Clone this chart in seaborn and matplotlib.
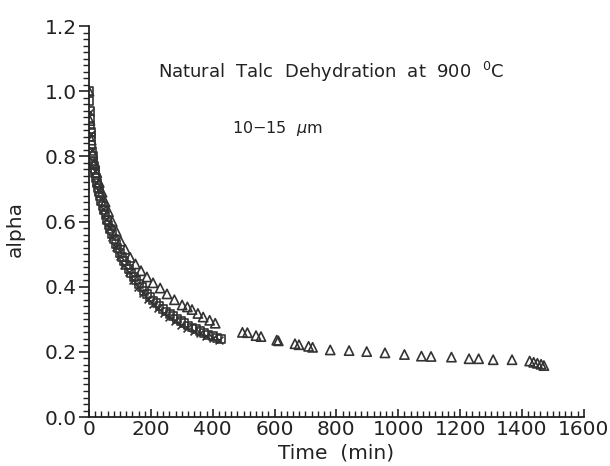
import matplotlib
matplotlib.use("Agg")
import matplotlib.pyplot as plt
from matplotlib.ticker import MultipleLocator
import seaborn as sns
import pandas as pd

# Run 1 (squares): dense record over the first ~430 min
t_sq = [0, 1, 2, 3, 4, 5, 6, 8, 10, 12, 14, 16, 18, 20, 23, 26, 29, 32, 36, 40,
        44, 48, 53, 58, 63, 68, 74, 80, 86, 92, 99, 106, 113, 120, 128, 136, 144,
        152, 161, 170, 179, 188, 198, 208, 218, 228, 239, 250, 261, 272, 284, 296,
        308, 320, 333, 346, 359, 372, 386, 400, 414, 428]
a_sq = [1.00, 0.97, 0.94, 0.915, 0.895, 0.875, 0.86, 0.835, 0.815, 0.80, 0.785,
        0.772, 0.76, 0.748, 0.733, 0.718, 0.704, 0.692, 0.677, 0.663, 0.649, 0.636,
        0.620, 0.605, 0.590, 0.576, 0.561, 0.546, 0.532, 0.518, 0.504, 0.491, 0.478,
        0.466, 0.454, 0.442, 0.431, 0.420, 0.409, 0.398, 0.388, 0.378, 0.368, 0.358,
        0.349, 0.341, 0.332, 0.324, 0.316, 0.309, 0.301, 0.294, 0.288, 0.281, 0.275,
        0.269, 0.263, 0.258, 0.253, 0.248, 0.244, 0.240]

# Run 2 (crosses)
t_x = [2, 5, 9, 13, 18, 24, 30, 37, 45, 54, 64, 75, 87, 100, 114, 128, 143, 158,
       174, 190, 207, 224, 242, 260, 279, 298, 318, 338, 358, 379, 400, 420]
a_x = [0.935, 0.87, 0.82, 0.787, 0.755, 0.722, 0.697, 0.668, 0.638, 0.608, 0.58,
       0.552, 0.522, 0.494, 0.467, 0.444, 0.421, 0.400, 0.381, 0.363, 0.348, 0.334,
       0.320, 0.307, 0.295, 0.284, 0.274, 0.265, 0.257, 0.250, 0.244, 0.238]

# Run 3 (triangles): long run out to ~1470 min
t_tri = [0, 3, 7, 12, 18, 25, 33, 42, 52, 63, 75, 88, 102, 117, 133, 150, 168, 187,
         207, 230, 252, 276, 301, 318, 333, 352, 369, 390, 408,
         496, 512, 540, 556, 607, 612, 666, 679, 710, 723, 780, 841, 898, 957, 1020,
         1075, 1106, 1172, 1229, 1260, 1307, 1368, 1425, 1438, 1450, 1462, 1471]
a_tri = [1.0, 0.91, 0.85, 0.81, 0.78, 0.75, 0.72, 0.69, 0.66, 0.63, 0.60, 0.57, 0.54,
         0.515, 0.49, 0.47, 0.449, 0.43, 0.412, 0.396, 0.378, 0.36, 0.344, 0.338,
         0.330, 0.318, 0.307, 0.297, 0.288,
         0.260, 0.259, 0.250, 0.247, 0.236, 0.234, 0.225, 0.222, 0.217, 0.214, 0.206,
         0.204, 0.201, 0.197, 0.192, 0.187, 0.186, 0.184, 0.179, 0.179, 0.176, 0.176,
         0.172, 0.168, 0.165, 0.162, 0.158]

x_ticks = [0, 200, 400, 600, 800, 1000, 1200, 1400, 1600]
y_ticks = [0.0, 0.2, 0.4, 0.6, 0.8, 1.0, 1.2]

sns.set_style("ticks")
plt.rcParams["font.family"] = ["DejaVu Sans"]

fig = plt.figure(figsize=(6.1, 4.66), dpi=100)
ax = fig.add_axes([0.146, 0.105, 0.811, 0.839])

ink = "#333333"
df_sq = pd.DataFrame({"t": t_sq, "a": a_sq})
df_x = pd.DataFrame({"t": t_x, "a": a_x})
df_tri = pd.DataFrame({"t": t_tri, "a": a_tri})

sns.scatterplot(data=df_sq, x="t", y="a", ax=ax, marker="s", s=32,
                facecolors="none", edgecolor=ink, linewidth=1.2)
sns.scatterplot(data=df_x, x="t", y="a", ax=ax, marker="x", s=32,
                color=ink, linewidth=1.2)
sns.scatterplot(data=df_tri, x="t", y="a", ax=ax, marker="^", s=44,
                facecolors="none", edgecolor=ink, linewidth=1.2)

ax.set_xlim(0, 1600)
ax.set_ylim(0, 1.2)
ax.set_xticks(x_ticks)
ax.set_yticks(y_ticks)
ax.set_xticklabels([str(v) for v in x_ticks])
ax.set_yticklabels([f"{v:.1f}" for v in y_ticks])
ax.xaxis.set_minor_locator(MultipleLocator(20))
ax.yaxis.set_minor_locator(MultipleLocator(0.02))

for side in ("top", "right"):
    ax.spines[side].set_visible(False)
for side in ("left", "bottom"):
    ax.spines[side].set_color("#222")
    ax.spines[side].set_linewidth(1.3)

ax.tick_params(axis="y", which="major", direction="out", length=7, width=1.2,
               labelsize=14.5, colors="#222", pad=2)
ax.tick_params(axis="y", which="minor", direction="out", length=4, width=1.0,
               colors="#222")
ax.tick_params(axis="x", which="major", direction="in", length=6, width=1.2,
               labelsize=14.5, colors="#222", pad=2)
ax.tick_params(axis="x", which="minor", direction="in", length=4, width=1.0,
               colors="#222")

ax.set_xlabel("Time  (min)", fontsize=14.5, color="#222", va="top")
ax.xaxis.set_label_coords(0.5, -0.068)
ax.set_ylabel("alpha", fontsize=14.5, color="#222", va="center")
ax.yaxis.set_label_coords(-0.15, 0.48)

ax.text(0.49, 0.882,
        r"Natural  Talc  Dehydration  at  900  $^{\mathregular{0}}$C",
        transform=ax.transAxes, ha="center", va="center", fontsize=13,
        color="#222")
ax.text(0.38, 0.739, r"10$-$15  $\mu$m", transform=ax.transAxes,
        ha="center", va="center", fontsize=11.5, color="#222")

fig.savefig("out.png", dpi=100)
